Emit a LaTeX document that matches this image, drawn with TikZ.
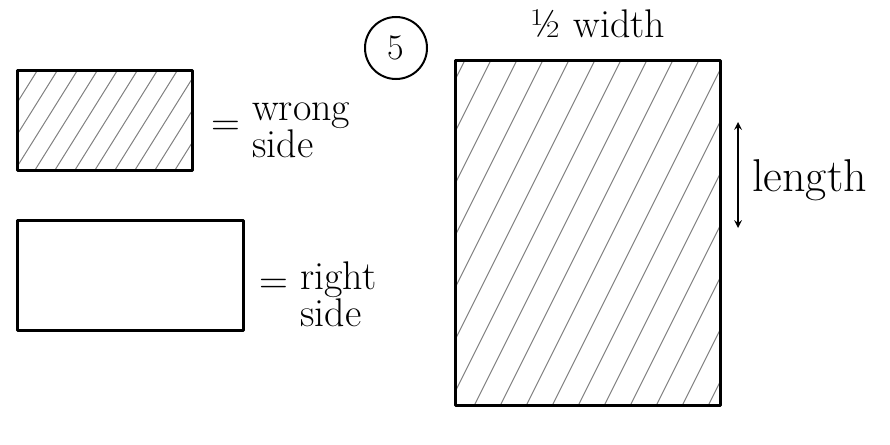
\documentclass[tikz,border=0pt]{standalone}
\usepackage{amsmath}
\usepackage{tikz}

\begin{document}
\begin{tikzpicture}[x=1pt,y=-1pt,
    edge/.style={line width=3pt,line cap=round,line join=round},
    hatch/.style={gray,line width=1pt},
    label/.style={inner sep=0pt,align=left,font=\fontsize{40}{34}\selectfont}]
  \useasboundingbox (0,0) rectangle (890,444);
  % Wrong side swatch
  \begin{scope}
    \clip (17,70) rectangle (192,170);
    \foreach \i in {0,...,12}
      \draw[hatch] (\i*20-70,178) -- ++(72,-115);
  \end{scope}
  \draw[edge] (17,70) rectangle (192,170);
  \node[label] (eqwrong) at (226,128) {=};
  \node[label,anchor=west] (wrong) at (252,130) {wrong\\side};
  % Right side swatch
  \draw[edge] (17,220) rectangle (243,330);
  \node[label] (eqright) at (274,286) {=};
  \node[label,anchor=west] (right) at (300,294) {right\\side};
  % Step 5: folded piece
  \node[circle,draw,line width=2pt,minimum size=62pt,inner sep=0pt,
        font=\fontsize{36}{36}\selectfont] (step) at (396,48) {5};
  \begin{scope}
    \clip (455,60) rectangle (720,405);
    \foreach \i in {0,...,16}
      \draw[hatch] (\i*26+290,410) -- ++(175,-350);
  \end{scope}
  \draw[edge] (455,60) rectangle (720,405);
  \node[label] (width) at (598,24) {½ width};
  % Length arrow
  \coordinate (lentop) at (738,122);
  \coordinate (lenbot) at (738,228);
  \draw[line width=2.4pt,<->,>=stealth] (lentop) -- (lenbot);
  \node[label,anchor=west,font=\fontsize{46}{46}\selectfont] (length) at (752,180) {length};
\end{tikzpicture}
\end{document}
